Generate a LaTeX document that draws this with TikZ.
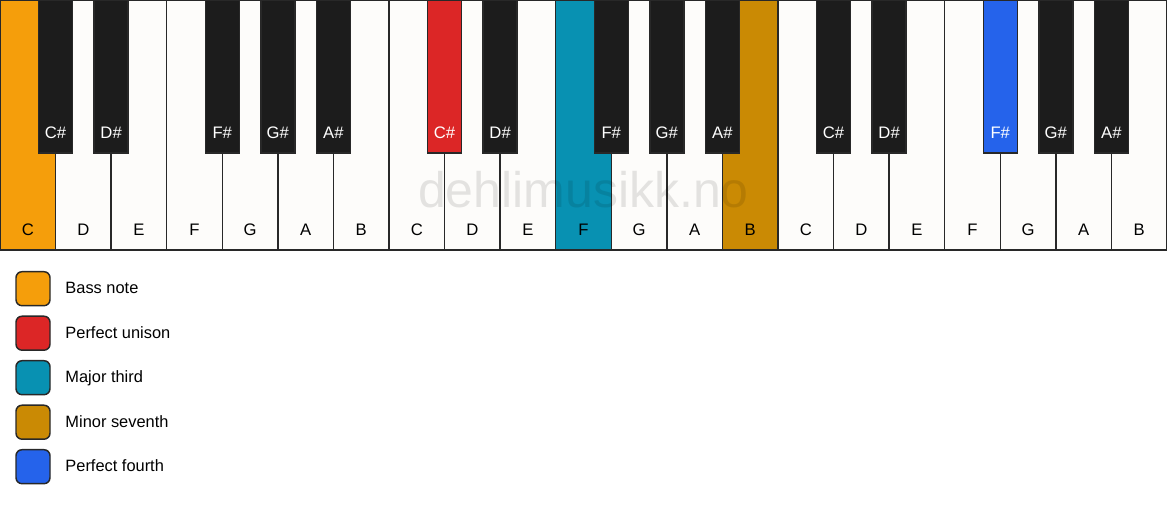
\documentclass[tikz,border=0pt]{standalone}
\usepackage{fontspec}
\setmainfont{Liberation Sans}
\usetikzlibrary{positioning}

\definecolor{keywhite}{RGB}{253,252,250}
\definecolor{keyblack}{RGB}{28,28,28}
\definecolor{keyline}{RGB}{40,40,40}
\definecolor{bassorange}{RGB}{245,158,11}
\definecolor{unisonred}{RGB}{220,38,38}
\definecolor{thirdteal}{RGB}{8,145,178}
\definecolor{seventhgold}{RGB}{202,138,4}
\definecolor{fourthblue}{RGB}{37,99,235}

\tikzset{every picture/.style={line width=1.1pt}}
\tikzset{
  whitekey/.style={draw=keyline, inner sep=0pt, minimum width=41.68pt, minimum height=187.5pt},
  blackkey/.style={draw=keyline, inner sep=0pt, minimum width=25.5pt, minimum height=114.75pt},
  whitelabel/.style={inner sep=0pt, font=\fontsize{12.5}{15}\selectfont, text=black},
  blacklabel/.style={inner sep=0pt, font=\fontsize{12.5}{15}\selectfont, text=white},
  swatch/.style={draw=keyline, rounded corners=4.5pt, inner sep=0pt, minimum size=25.5pt},
  legendtext/.style={inner sep=0pt, text height=8.8pt, text depth=1pt, font=\fontsize{12.3}{15}\selectfont, anchor=west}
}

\begin{document}
\begin{tikzpicture}[x=0.75pt,y=0.75pt,yscale=-1,xscale=1]
\path[use as bounding box] (0,0) rectangle (1167,506);

% White keys
\foreach \lab/\col [count=\i from 0] in {C/bassorange,D/keywhite,E/keywhite,F/keywhite,G/keywhite,A/keywhite,B/keywhite,
  C/keywhite,D/keywhite,E/keywhite,F/thirdteal,G/keywhite,A/keywhite,B/seventhgold,
  C/keywhite,D/keywhite,E/keywhite,F/keywhite,G/keywhite,A/keywhite,B/keywhite}{
  \node[whitekey, fill=\col] (w\i) at ({(\i+0.5)*55.571},125) {};
  \node[whitelabel] (wl\i) at ({(\i+0.5)*55.571},230) {\lab};
}

% Watermark
\node[inner sep=0pt, anchor=base, font=\fontsize{37.5}{40}\selectfont, text=black, text opacity=0.1] (mark) at (583.5,208) {dehlimusikk.no};

% Black keys
\foreach \lab/\pos/\col [count=\j from 0] in {C\#/1/keyblack,D\#/2/keyblack,F\#/4/keyblack,G\#/5/keyblack,A\#/6/keyblack,
  C\#/8/unisonred,D\#/9/keyblack,F\#/11/keyblack,G\#/12/keyblack,A\#/13/keyblack,
  C\#/15/keyblack,D\#/16/keyblack,F\#/18/fourthblue,G\#/19/keyblack,A\#/20/keyblack}{
  \node[blackkey, fill=\col] (b\j) at ({\pos*55.571},76.5) {};
  \node[blacklabel] (bl\j) at ({\pos*55.571},133) {\lab};
}

% Legend
\node[swatch, fill=bassorange] (s1) at (33,288.7) {};
\node[legendtext, right=10.5pt of s1] (t1) {Bass note};
\node[swatch, fill=unisonred] (s2) at (33,333.2) {};
\node[legendtext, right=10.5pt of s2] (t2) {Perfect unison};
\node[swatch, fill=thirdteal] (s3) at (33,377.7) {};
\node[legendtext, right=10.5pt of s3] (t3) {Major third};
\node[swatch, fill=seventhgold] (s4) at (33,422.2) {};
\node[legendtext, right=10.5pt of s4] (t4) {Minor seventh};
\node[swatch, fill=fourthblue] (s5) at (33,466.7) {};
\node[legendtext, right=10.5pt of s5] (t5) {Perfect fourth};

\end{tikzpicture}
\end{document}
